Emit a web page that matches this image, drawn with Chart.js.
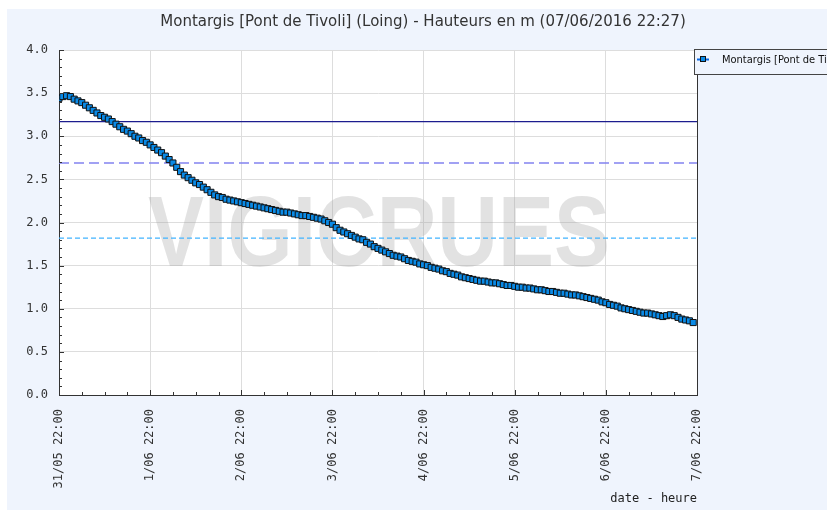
<!DOCTYPE html>
<html>
<head>
<meta charset="utf-8">
<script src="https://cdn.jsdelivr.net/npm/chart.js@4/dist/chart.umd.min.js"></script>
<style>
  html, body { margin: 0; padding: 0; background: #fff; }
  #wrap { width: 827px; height: 514px; position: relative; }
</style>
</head>
<body>
<div id="wrap"><canvas id="hauteurChart" width="827" height="514"></canvas></div>
<script>
// hourly readings, first one at 31/05 22:00 (metres)
var hauteurs = [
  3.44, 3.46, 3.47, 3.46, 3.43, 3.41, 3.39, 3.36, 3.33, 3.30, 3.27, 3.24,
  3.22, 3.20, 3.17, 3.14, 3.11, 3.08, 3.06, 3.03, 3.00, 2.98, 2.95, 2.93,
  2.90, 2.87, 2.84, 2.81, 2.77, 2.73, 2.69, 2.64, 2.59, 2.55, 2.52, 2.49,
  2.46, 2.44, 2.41, 2.38, 2.35, 2.32, 2.30, 2.29, 2.27, 2.26, 2.25, 2.24,
  2.23, 2.22, 2.21, 2.20, 2.19, 2.18, 2.17, 2.16, 2.15, 2.14, 2.13, 2.12,
  2.12, 2.11, 2.10, 2.09, 2.08, 2.08, 2.07, 2.06, 2.05, 2.04, 2.02, 2.00,
  1.98, 1.94, 1.91, 1.89, 1.87, 1.85, 1.83, 1.81, 1.80, 1.77, 1.75, 1.72,
  1.70, 1.68, 1.66, 1.64, 1.62, 1.61, 1.60, 1.58, 1.56, 1.55, 1.54, 1.52,
  1.51, 1.50, 1.48, 1.47, 1.46, 1.44, 1.43, 1.41, 1.40, 1.39, 1.37, 1.36,
  1.35, 1.34, 1.33, 1.32, 1.32, 1.31, 1.30, 1.30, 1.29, 1.28, 1.27, 1.27,
  1.26, 1.25, 1.25, 1.24, 1.24, 1.23, 1.22, 1.22, 1.21, 1.20, 1.20, 1.19,
  1.18, 1.18, 1.17, 1.16, 1.16, 1.15, 1.14, 1.13, 1.12, 1.11, 1.10, 1.08,
  1.07, 1.05, 1.04, 1.03, 1.01, 1.00, 0.99, 0.98, 0.97, 0.96, 0.95, 0.95,
  0.94, 0.93, 0.92, 0.91, 0.92, 0.93, 0.92, 0.90, 0.88, 0.87, 0.86, 0.84
];
var dateLabels = ["31/05 22:00", "1/06 22:00", "2/06 22:00", "3/06 22:00",
                  "4/06 22:00", "5/06 22:00", "6/06 22:00", "7/06 22:00"];
var seuils = [3.17, 2.69, 1.82];
var seuilColors = ["#1c1c8e", "#8282f0", "#42b4ff"];
var seuilDash = [[], [10, 5], [5, 3]];
var yTicks = [0, 0.5, 1, 1.5, 2, 2.5, 3, 3.5, 4];

var titre = "Montargis [Pont de Tivoli] (Loing) - Hauteurs en m (07/06/2016 22:27)";
var nomSerie = "Montargis [Pont de Tivoli] (Loing)";
var spanHours = (dateLabels.length - 1) * 24;

var points = hauteurs.map(function (v, i) { return { x: i, y: v }; });

var datasets = [{
  label: nomSerie,
  data: points,
  borderColor: "#000",
  borderWidth: 1,
  pointStyle: "rect",
  pointRadius: 4.3,
  pointBorderWidth: 1,
  pointBorderColor: "#111",
  pointBackgroundColor: "#0a8ae6",
  tension: 0
}];
seuils.forEach(function (s, k) {
  datasets.push({
    label: "seuil " + k,
    data: [{ x: 0, y: s }, { x: spanHours, y: s }],
    borderColor: seuilColors[k],
    borderWidth: 1.3,
    borderDash: seuilDash[k],
    pointRadius: 0
  });
});

// background, title, watermark, minor ticks, legend
var decor = {
  id: "decor",
  beforeDraw: function (chart) {
    var c = chart.ctx;
    var a = chart.chartArea;
    c.save();
    c.fillStyle = "#eff4fd";
    c.fillRect(7, 9, 820, 501);
    c.fillStyle = "#fff";
    c.fillRect(a.left, a.top, a.right - a.left, a.bottom - a.top);
    c.fillStyle = "#333";
    c.font = "15px 'DejaVu Sans'";
    c.textAlign = "center";
    c.textBaseline = "middle";
    c.fillText(titre, 423, 22);
    c.restore();
  },
  beforeDatasetsDraw: function (chart) {
    var c = chart.ctx;
    var a = chart.chartArea;
    c.save();
    c.beginPath();
    c.rect(a.left, a.top, a.right - a.left, a.bottom - a.top);
    c.clip();
    c.font = "bold 100px 'Liberation Sans'";
    var w = c.measureText("VIGICRUES").width;
    c.translate(148, 266);
    c.scale(462 / w, 1);
    c.fillStyle = "rgba(160,160,160,0.3)";
    c.textBaseline = "alphabetic";
    c.fillText("VIGICRUES", 0, 0);
    c.restore();
  },
  afterDraw: function (chart) {
    var c = chart.ctx;
    var a = chart.chartArea;
    var xs = chart.scales.x;
    var ys = chart.scales.y;
    c.save();
    c.strokeStyle = "#333";
    c.lineWidth = 1;
    c.beginPath();
    for (var i = 0; i <= 40; i++) {
      var py = Math.round(ys.getPixelForValue(i / 10)) + 0.5;
      var len = i % 5 === 0 ? 5 : 3;
      c.moveTo(a.left, py);
      c.lineTo(a.left + len, py);
    }
    for (var h = 0; h <= spanHours; h += 6) {
      var px = Math.round(xs.getPixelForValue(h)) + 0.5;
      var l2 = h % 24 === 0 ? 5 : 3;
      c.moveTo(px, a.bottom);
      c.lineTo(px, a.bottom - l2);
    }
    c.moveTo(Math.round(a.right) + 0.5, a.top);
    c.lineTo(Math.round(a.right) + 0.5, a.bottom);
    c.stroke();

    // axis caption
    c.fillStyle = "#222";
    c.font = "12px 'DejaVu Sans Mono'";
    c.textAlign = "right";
    c.textBaseline = "middle";
    c.fillText("date - heure", a.right, 499);

    // legend box (runs off the right edge)
    c.fillStyle = "#eff4fd";
    c.fillRect(694.5, 49.5, 140, 25);
    c.strokeStyle = "#444";
    c.strokeRect(694.5, 49.5, 140, 25);
    c.strokeStyle = "#0a6ae6";
    c.lineWidth = 2;
    c.beginPath();
    c.moveTo(697, 59.5);
    c.lineTo(709, 59.5);
    c.stroke();
    c.fillStyle = "#0a8ae6";
    c.fillRect(700, 57, 6, 5);
    c.strokeStyle = "#111";
    c.lineWidth = 1;
    c.strokeRect(700.5, 56.5, 5, 5);
    c.fillStyle = "#111";
    c.font = "11px 'DejaVu Sans Condensed', 'DejaVu Sans'";
    c.textAlign = "left";
    c.fillText(nomSerie, 722, 60);
    c.restore();
  }
};

var ctx = document.getElementById("hauteurChart").getContext("2d");
var myChart = new Chart(ctx, {
  type: "line",
  data: { datasets: datasets },
  plugins: [decor],
  options: {
    responsive: false,
    animation: false,
    layout: { padding: { left: 0, top: 50, right: 130, bottom: 0 } },
    plugins: {
      legend: { display: false },
      title: { display: false },
      tooltip: { enabled: false }
    },
    scales: {
      x: {
        type: "linear",
        min: 0,
        max: spanHours,
        afterFit: function (scale) { scale.height = 119; },
        afterBuildTicks: function (scale) {
          scale.ticks = dateLabels.map(function (d, i) { return { value: i * 24 }; });
        },
        ticks: {
          autoSkip: false,
          minRotation: 90,
          maxRotation: 90,
          padding: 14,
          color: "#333",
          font: { family: "'DejaVu Sans Mono'", size: 12 },
          callback: function (value) { return dateLabels[Math.round(value / 24)]; }
        },
        grid: { color: "#dddddd", drawTicks: false },
        border: { color: "#333", width: 1 }
      },
      y: {
        min: 0,
        max: 4,
        afterFit: function (scale) { scale.width = 59; },
        afterBuildTicks: function (scale) {
          scale.ticks = yTicks.map(function (v) { return { value: v }; });
        },
        ticks: {
          padding: 11,
          color: "#333",
          font: { family: "'DejaVu Sans Mono'", size: 12 },
          callback: function (value) { return value.toFixed(1); }
        },
        grid: { color: "#dddddd", drawTicks: false },
        border: { color: "#333", width: 1 }
      }
    }
  }
});
</script>
</body>
</html>
